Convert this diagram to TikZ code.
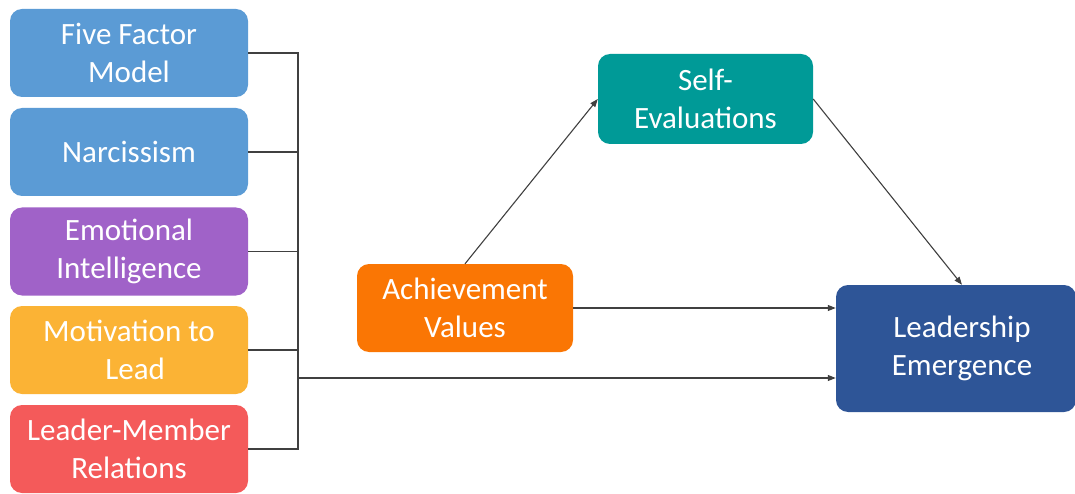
\documentclass[tikz,border=0pt]{standalone}
\usepackage{fontspec}
\setmainfont{Carlito}
\usetikzlibrary{arrows.meta}
\definecolor{cBlue}{HTML}{5B9BD5}
\definecolor{cPurple}{HTML}{A062C8}
\definecolor{cYellow}{HTML}{FBB335}
\definecolor{cRed}{HTML}{F45A5A}
\definecolor{cOrange}{HTML}{FA7604}
\definecolor{cTeal}{HTML}{009A97}
\definecolor{cNavy}{HTML}{2E5597}
\definecolor{cLine}{HTML}{404040}
\tikzset{
  box/.style={rounded corners=12pt, inner sep=0pt, align=center, text=white,
    font=\fontsize{31}{38}\selectfont},
  leftbox/.style={box, minimum width=238pt, minimum height=88pt},
  conn/.style={draw=cLine, line width=1.1pt},
  arr/.style={conn, -{Triangle[length=8pt,width=6pt]}}
}
\begin{document}
\begin{tikzpicture}[x=1pt,y=-1pt]
\useasboundingbox (0,0) rectangle (1075,494);
\node[leftbox, fill=cBlue] (b1) at (129,53) {Five Factor\\Model};
\node[leftbox, fill=cBlue] (b2) at (129,152) {Narcissism};
\node[leftbox, fill=cPurple] (b3) at (129,251.5) {Emotional\\Intelligence};
\node[leftbox, fill=cYellow] (b4) at (129,350) {Motivation to\\\hspace*{0.4em}Lead};
\node[leftbox, fill=cRed] (b5) at (129,449) {Leader-Member\\Relations};
\node[box, fill=cOrange, minimum width=216pt, minimum height=88pt] (ach) at (465,308) {Achievement\\Values};
\node[box, fill=cTeal, minimum width=215pt, minimum height=90pt] (self) at (705.5,99) {Self-\\Evaluations};
\node[box, fill=cNavy, minimum width=240pt, minimum height=127pt] (lead) at (956,348.5) {\hspace*{12pt}Leadership\\\hspace*{12pt}Emergence};
\coordinate (bus) at (298,378);
\draw[conn] (b1.east) -- (b1.east -| bus) -- (b5.east -| bus) -- (b5.east);
\draw[conn] (b2.east) -- (b2.east -| bus);
\draw[conn] (b3.east) -- (b3.east -| bus);
\draw[conn] (b4.east) -- (b4.east -| bus);
\draw[arr] (bus) -- (bus -| lead.west);
\draw[arr] (ach.east) -- (ach.east -| lead.west);
\draw[arr] (ach.north) -- (self.west);
\draw[arr] (self.east) -- ([xshift=6pt]lead.north);
\end{tikzpicture}
\end{document}
